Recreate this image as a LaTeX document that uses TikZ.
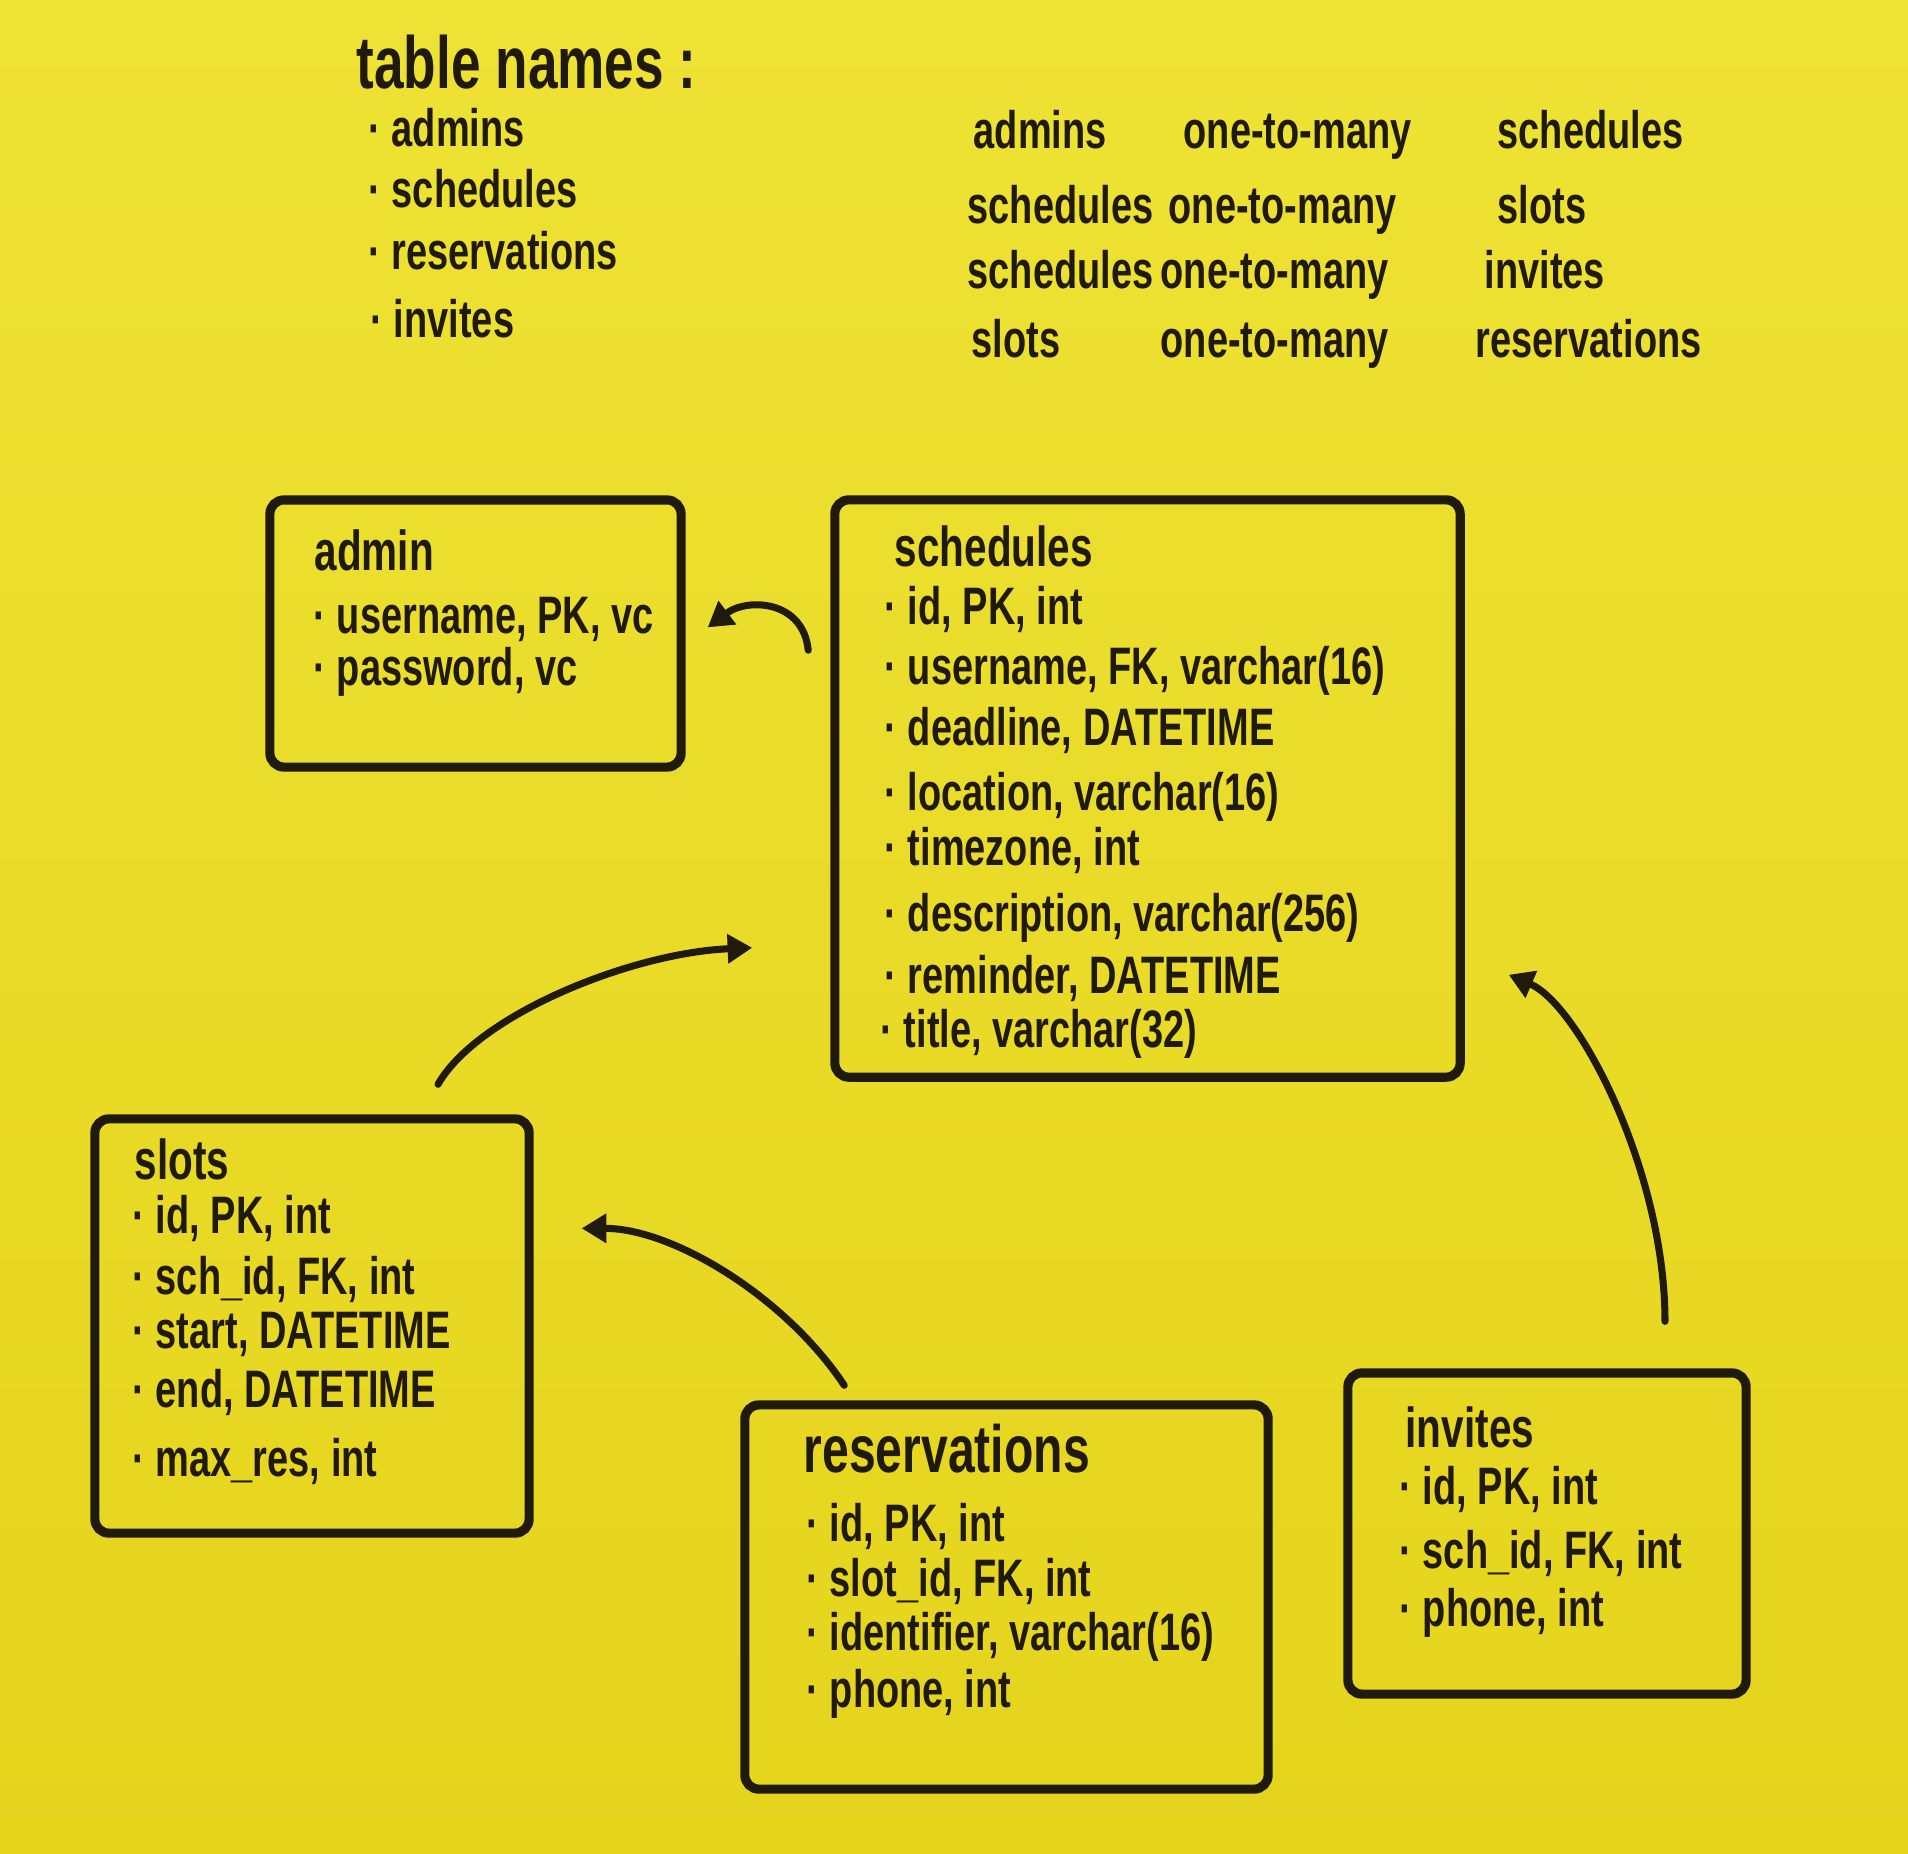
\documentclass[tikz,border=0pt]{standalone}
\usepackage{fontspec}
\setmainfont{Liberation Sans}[FakeStretch=0.72]
\usetikzlibrary{arrows.meta}
\definecolor{boardtop}{RGB}{238,226,52}
\definecolor{boardbot}{RGB}{229,212,28}
\definecolor{ink}{RGB}{32,26,12}

\begin{document}
\begin{tikzpicture}[x=0.01cm,y=-0.01cm]
\tikzstyle{every node}+=[inner sep=0pt, text=ink]
\tikzstyle{tbl}=[draw=ink, line width=2.6pt, rounded corners=4pt]
\tikzstyle{fld}=[anchor=base west, font=\fontsize{15}{18}\selectfont\bfseries]
\tikzstyle{ttl}=[anchor=base west, font=\fontsize{16}{19}\selectfont\bfseries]
\tikzstyle{note}=[anchor=base west, font=\fontsize{15}{18}\selectfont\bfseries]
\tikzstyle{rel}=[draw=ink, line width=2pt, line cap=round, -{Triangle[length=7pt,width=8pt]}]
\shade[top color=boardtop, bottom color=boardbot] (0,0) rectangle (1908,1853);
\useasboundingbox (0,0) rectangle (1908,1853);
% table list
\node[anchor=base west, font=\fontsize{21}{24}\selectfont\bfseries] (names) at (356,88) {table names :};
\node[note] (n1) at (368,146) {· admins};
\node[note] (n2) at (368,207) {· schedules};
\node[note] (n3) at (368,269) {· reservations};
\node[note] (n4) at (370,337) {· invites};
% relations
\node[note] (r1a) at (973,148) {admins};
\node[note] (r1b) at (1183,148) {one-to-many};
\node[note] (r1c) at (1497,148) {schedules};
\node[note] (r2a) at (967,223) {schedules};
\node[note] (r2b) at (1168,223) {one-to-many};
\node[note] (r2c) at (1497,223) {slots};
\node[note] (r3a) at (967,288) {schedules};
\node[note] (r3b) at (1160,288) {one-to-many};
\node[note] (r3c) at (1484,288) {invites};
\node[note] (r4a) at (971,357) {slots};
\node[note] (r4b) at (1160,357) {one-to-many};
\node[note] (r4c) at (1475,357) {reservations};
% tables
\node[tbl, minimum width=4.11cm, minimum height=2.67cm] (admin) at (475.5,633.5) {};
\node[tbl, minimum width=6.25cm, minimum height=5.77cm] (sched) at (1147.5,788.5) {};
\node[tbl, minimum width=4.34cm, minimum height=4.14cm] (slots) at (312,1326) {};
\node[tbl, minimum width=5.23cm, minimum height=3.84cm] (resv) at (1006.5,1597) {};
\node[tbl, minimum width=3.98cm, minimum height=3.21cm] (inv) at (1547,1533.5) {};
% admin
\node[ttl] (admint) at (314,570) {admin};
\node[fld] (admin1) at (313,633) {· username, PK, vc};
\node[fld] (admin2) at (313,685) {· password, vc};
% schedules
\node[ttl] (schedt) at (894,566) {schedules};
\node[fld] (sched1) at (884,624) {· id, PK, int};
\node[fld] (sched2) at (884,684) {· username, FK, varchar(16)};
\node[fld] (sched3) at (884,745) {· deadline, DATETIME};
\node[fld] (sched4) at (884,810) {· location, varchar(16)};
\node[fld] (sched5) at (884,865) {· timezone, int};
\node[fld] (sched6) at (884,931) {· description, varchar(256)};
\node[fld] (sched7) at (884,993) {· reminder, DATETIME};
\node[fld] (sched8) at (880,1047) {· title, varchar(32)};
% slots
\node[ttl] (slotst) at (134,1179) {slots};
\node[fld] (slots1) at (132,1233) {· id, PK, int};
\node[fld] (slots2) at (132,1294) {· sch\_id, FK, int};
\node[fld] (slots3) at (132,1348) {· start, DATETIME};
\node[fld] (slots4) at (132,1407) {· end, DATETIME};
\node[fld] (slots5) at (132,1476) {· max\_res, int};
% reservations
\node[ttl, font=\fontsize{19}{22}\selectfont\bfseries] (resvt) at (803,1472) {reservations};
\node[fld] (resv1) at (806,1541) {· id, PK, int};
\node[fld] (resv2) at (806,1596) {· slot\_id, FK, int};
\node[fld] (resv3) at (806,1650) {· identifier, varchar(16)};
\node[fld] (resv4) at (806,1707) {· phone, int};
% invites
\node[ttl] (invt) at (1405,1447) {invites};
\node[fld] (inv1) at (1399,1504) {· id, PK, int};
\node[fld] (inv2) at (1399,1568) {· sch\_id, FK, int};
\node[fld] (inv3) at (1399,1626) {· phone, int};
% links
\coordinate (a1s) at ([shift={(-22,155)}]sched.north west);
\coordinate (a1e) at ([shift={(22,132)}]admin.north east);
\coordinate (a2s) at ([shift={(126,-30)}]slots.north);
\coordinate (a2e) at ([shift={(-78,-134)}]sched.south west);
\coordinate (a3s) at ([shift={(104,-15)}]resv.north west);
\coordinate (a3e) at ([shift={(48,114)}]slots.north east);
\coordinate (a4s) at ([shift={(118,-47)}]inv.north);
\coordinate (a4e) at ([shift={(44,-107)}]sched.south east);
\draw[rel] (a1s) .. controls +(-5,-50) and +(40,-30) .. (a1e);
\draw[rel] (a2s) .. controls +(40,-70) and +(-120,5) .. (a2e);
\draw[rel] (a3s) .. controls +(-60,-90) and +(90,0) .. (a3e);
\draw[rel] (a4s) .. controls +(0,-150) and +(70,30) .. (a4e);
\end{tikzpicture}
\end{document}
